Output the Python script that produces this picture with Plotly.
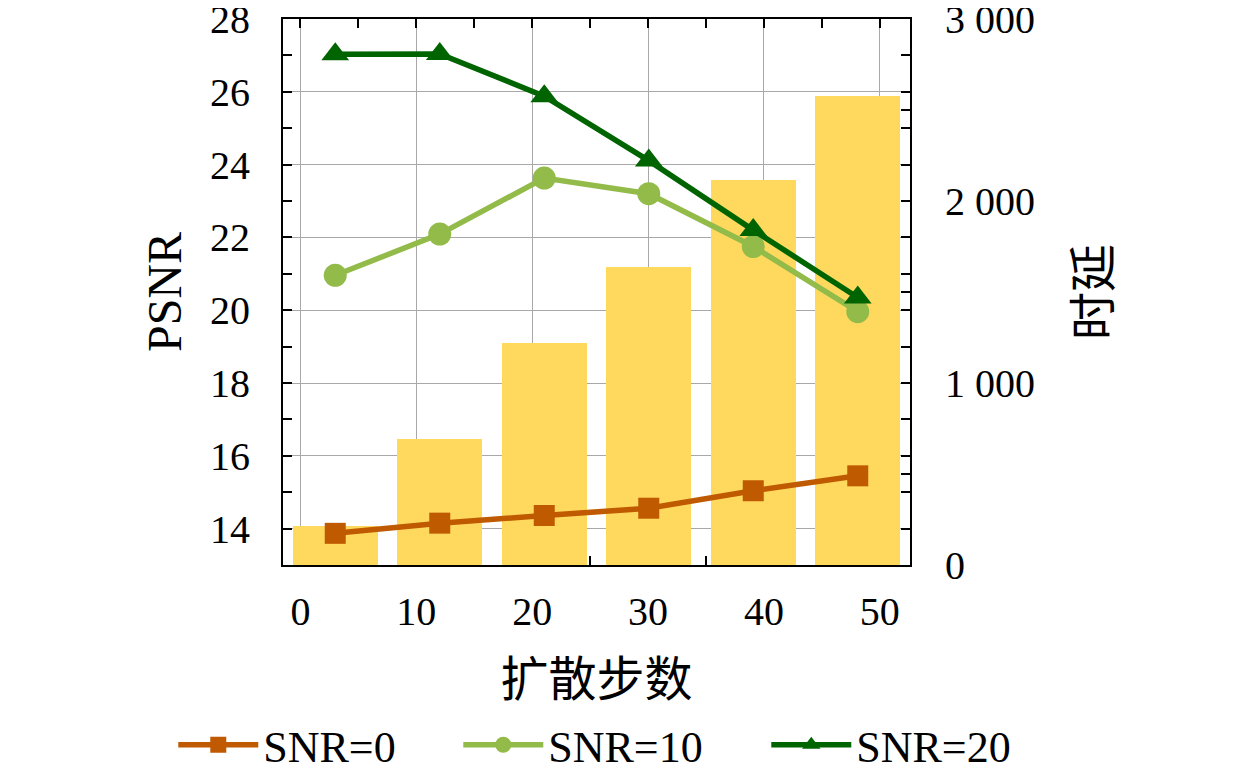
import plotly.graph_objects as go

# diffusion steps shown as 6 evenly spaced groups
step_pos = [0, 1, 2, 3, 4, 5]
latency = [214, 692, 1220, 1637, 2115, 2579]
psnr_snr0 = [13.87, 14.15, 14.36, 14.56, 15.04, 15.45]
psnr_snr10 = [20.96, 22.09, 23.63, 23.2, 21.75, 19.96]
psnr_snr20 = [27.03, 27.04, 25.88, 24.11, 22.2, 20.35]
step_ticks = [0, 10, 20, 30, 40, 50]

FONT = "Liberation Serif, Noto Sans CJK SC, serif"

fig = go.Figure()

# empty helper so the visible step axis gets drawn
fig.add_trace(go.Scatter(
    x=step_ticks, y=[None] * len(step_ticks), xaxis="x", yaxis="y",
    mode="lines", showlegend=False, hoverinfo="skip",
))

# bars on the hidden group axis, against the right-hand latency axis
fig.add_trace(go.Bar(
    x=step_pos, y=latency, xaxis="x2", yaxis="y",
    width=0.81, marker=dict(color="#FED95E", line=dict(width=0)),
    showlegend=False,
))

series = [
    ("SNR=0", psnr_snr0, "#C05A00", "square", 21, 190),
    ("SNR=10", psnr_snr10, "#92BB4A", "circle", 23, 213),
    ("SNR=20", psnr_snr20, "#006400", "triangle-up", 24, 175),
]
for name, vals, color, symbol, size, lw in series:
    fig.add_trace(go.Scatter(
        x=step_pos, y=vals, xaxis="x2", yaxis="y2", name=name,
        mode="lines+markers",
        line=dict(color=color, width=5.5),
        marker=dict(symbol=symbol, size=size, color=color),
        legendwidth=lw,
    ))

tick_style = dict(ticks="inside", ticklen=9, tickwidth=1.5, tickcolor="black")

# page body adds 8px, so margins are pulled in by that much
fig.update_layout(
    width=1260,
    height=774,
    margin=dict(l=275, r=358, t=11, b=217, autoexpand=False),
    paper_bgcolor="white",
    plot_bgcolor="white",
    font=dict(family=FONT, size=40, color="black"),
    bargap=0,
    xaxis=dict(
        range=[-1.5, 52.6], tickvals=step_ticks, **tick_style,
        minor=dict(dtick=5, tick0=0, **tick_style),
        showline=True, linecolor="black", linewidth=2, mirror="ticks",
        showgrid=True, gridcolor="#A8A8A8", gridwidth=1,
        zeroline=False, ticklabelstandoff=10, automargin=False,
        ticklabeloverflow="allow", layer="below traces",
        title=dict(text="扩散步数", standoff=29),
    ),
    xaxis2=dict(range=[-0.5, 5.5], overlaying="x", visible=False),
    yaxis=dict(
        side="right", range=[0, 3000], dtick=1000,
        separatethousands=True, **tick_style,
        minor=dict(dtick=500, **tick_style),
        showgrid=False, zeroline=False, showline=True, linecolor="black", linewidth=2,
        ticklabelstandoff=25, automargin=False, ticklabeloverflow="allow",
        title=dict(text="时延", standoff=42),
    ),
    yaxis2=dict(
        overlaying="y", side="left", anchor="x",
        range=[13, 28], dtick=2, **tick_style,
        minor=dict(dtick=1, **tick_style),
        showline=True, linecolor="black", linewidth=2, mirror="ticks",
        showgrid=True, gridcolor="#A8A8A8", gridwidth=1,
        zeroline=False, ticklabelstandoff=23, automargin=False,
        ticklabeloverflow="allow",
        title=dict(text="PSNR", standoff=13),
    ),
    separators=". ",
    legend=dict(
        orientation="h", x=-0.175, xanchor="left", y=-0.33, yanchor="middle",
        font=dict(size=44), itemwidth=80, bgcolor="rgba(0,0,0,0)",
    ),
)

fig.write_html("out.html")
